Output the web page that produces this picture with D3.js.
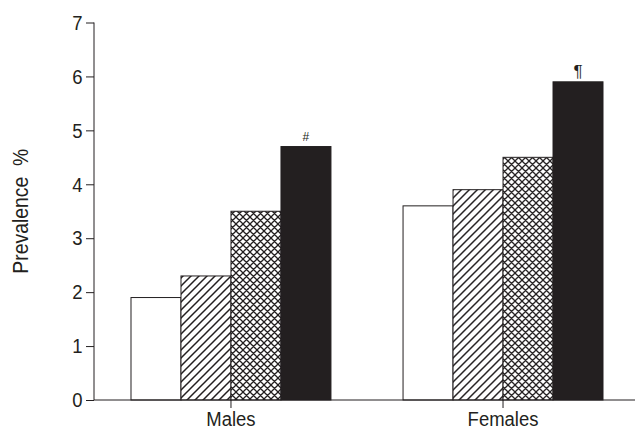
<!DOCTYPE html>
<html>
<head>
<meta charset="utf-8">
<script src="https://cdn.jsdelivr.net/npm/d3@7"></script>
<style>
  body { margin: 0; background: #fff; }
  svg { display: block; font-family: "Liberation Sans", Arial, sans-serif; }
</style>
</head>
<body>
<div id="chart"></div>
<script>
// data
const groups = ["Males", "Females"]
const seriesKeys = ["s1", "s2", "s3", "s4"]
const maleValues = [1.9, 2.3, 3.5, 4.7]
const femaleValues = [3.6, 3.9, 4.5, 5.9]
const yTicks = [0, 1, 2, 3, 4, 5, 6, 7]
const groupMarks = {Males: "#", Females: "¶"}

const w = 635, h = 433
const ink = "#231f20"
const squeeze = "scale(0.88,1)"   // the original type is a narrow sans

const svg = d3.select("#chart").append("svg")
    .attr("width", w)
    .attr("height", h)

const defs = svg.append("defs")

// single diagonal hatch
const diag = defs.append("pattern")
    .attr("id", "diag")
    .attr("patternUnits", "userSpaceOnUse")
    .attr("width", 8).attr("height", 8)
diag.append("rect").attr("width", 8).attr("height", 8).attr("fill", "#fff")
diag.append("path")
    .attr("d", "M0,8 L8,0 M-2,2 L2,-2 M6,10 L10,6")
    .attr("stroke", ink).attr("stroke-width", 1.5)

// cross hatch
const cs = 7
const cross = defs.append("pattern")
    .attr("id", "cross")
    .attr("patternUnits", "userSpaceOnUse")
    .attr("width", cs).attr("height", cs)
cross.append("rect").attr("width", cs).attr("height", cs).attr("fill", "#fff")
cross.append("path")
    .attr("d", `M0,${cs} L${cs},0 M-2,2 L2,-2 M${cs-2},${cs+2} L${cs+2},${cs-2} M0,0 L${cs},${cs} M-2,${cs-2} L2,${cs+2} M${cs-2},-2 L${cs+2},2`)
    .attr("stroke", ink).attr("stroke-width", 1.3)

const fills = ["#fff", "url(#diag)", "url(#cross)", ink]

const x0 = d3.scaleBand()
    .domain(groups)
    .range([94, 640])
    .paddingInner(0.265)
    .paddingOuter(0.136)

const x1 = d3.scaleBand()
    .domain(seriesKeys)
    .range([0, x0.bandwidth()])

const y = d3.scaleLinear()
    .domain([0, 7])
    .range([400, 22.5])

const rows = groups.map((g, i) => ({
    group: g,
    values: i === 0 ? maleValues : femaleValues
}))

// bars
const gBars = svg.append("g").attr("class", "bars")
rows.forEach(row => {
    const g = gBars.append("g").attr("transform", `translate(${x0(row.group)},0)`)
    g.selectAll("rect")
        .data(row.values)
        .join("rect")
        .attr("x", (d, i) => x1(seriesKeys[i]))
        .attr("y", d => y(d))
        .attr("width", x1.bandwidth())
        .attr("height", d => y(0) - y(d))
        .attr("fill", (d, i) => fills[i])
        .attr("stroke", ink)
        .attr("stroke-width", 1)

    const last = row.values[row.values.length - 1]
    g.append("text")
        .attr("x", x1(seriesKeys[3]) + x1.bandwidth() / 2)
        .attr("y", y(last) - (row.group === "Males" ? 6 : 5))
        .attr("text-anchor", "middle")
        .attr("fill", ink)
        .style("font-size", row.group === "Males" ? "12px" : "17px")
        .text(groupMarks[row.group])
})

// y axis
const yAxis = svg.append("g")
    .attr("transform", "translate(94,0)")
    .call(d3.axisLeft(y).tickValues(yTicks).tickSize(8).tickPadding(5).tickFormat(d3.format("d")))
yAxis.select(".domain").attr("stroke", ink).attr("d", `M0,${y(7)}V${y(0)}`)
yAxis.selectAll("line").attr("stroke", ink)
yAxis.selectAll("text")
    .attr("fill", ink)
    .attr("transform", squeeze)
    .style("font-size", "21px")
    .style("font-family", "Liberation Sans, Arial, sans-serif")

// x axis
const xAxis = svg.append("g")
    .attr("transform", `translate(0,${y(0)})`)
    .call(d3.axisBottom(x0).tickSize(8).tickPadding(3))
xAxis.select(".domain").attr("stroke", ink).attr("d", `M94,0H635`)
xAxis.selectAll("line").attr("stroke", ink)
xAxis.selectAll("text")
    .attr("fill", ink)
    .attr("transform", squeeze)
    .style("font-size", "21px")
    .style("font-family", "Liberation Sans, Arial, sans-serif")

// y label
svg.append("text")
    .attr("transform", `translate(28,${(y(0) + y(7)) / 2}) rotate(-90) ${squeeze}`)
    .attr("text-anchor", "middle")
    .attr("fill", ink)
    .style("font-size", "22px")
    .style("white-space", "pre")
    .attr("xml:space", "preserve")
    .text("Prevalence  %")
</script>
</body>
</html>
